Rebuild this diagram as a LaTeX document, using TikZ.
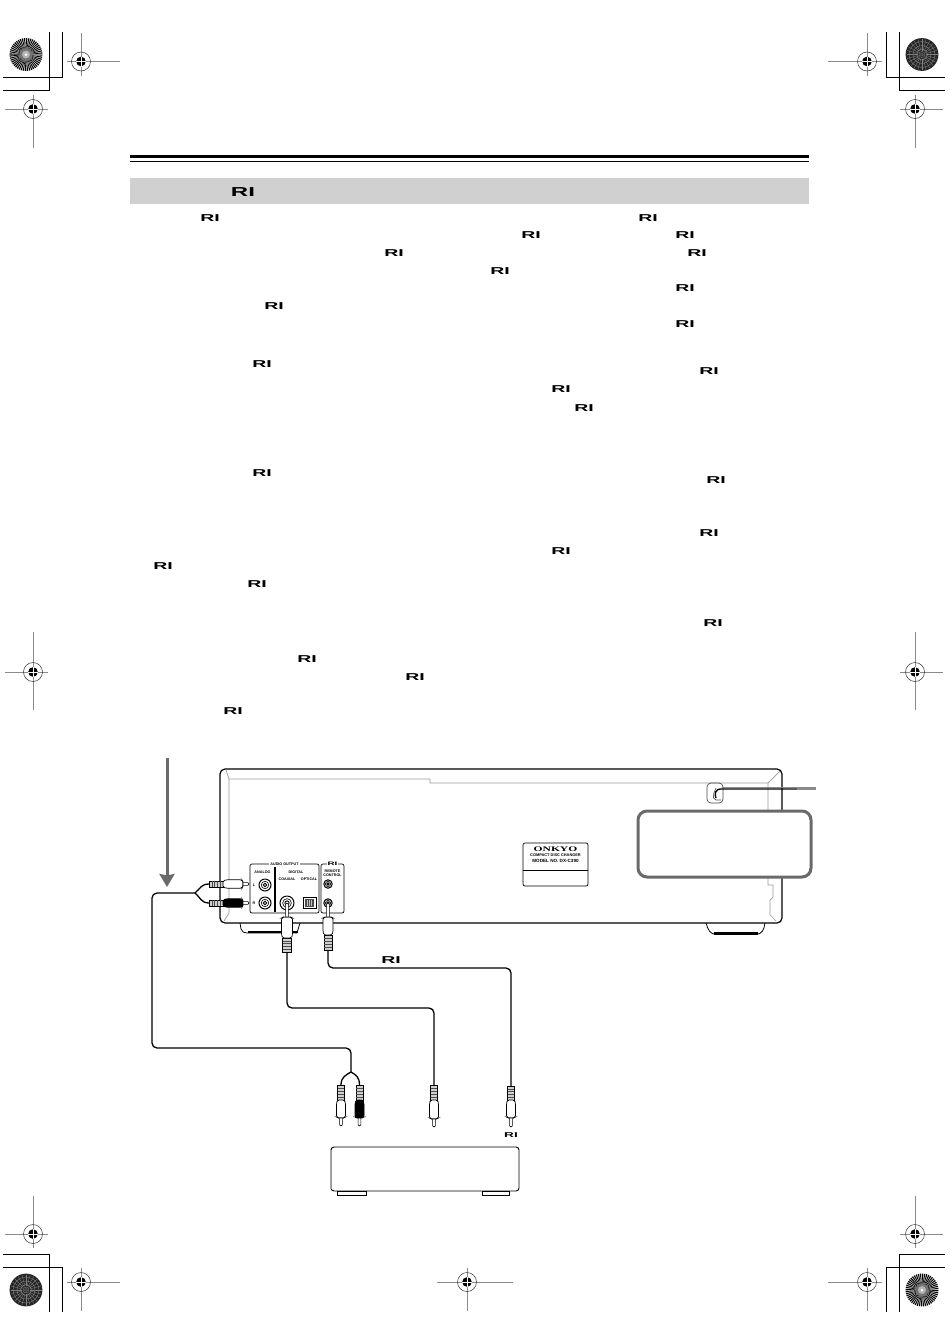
\documentclass[tikz,border=0pt]{standalone}
\usepackage{fontspec}
\usetikzlibrary{arrows.meta}
\setmainfont{Liberation Sans}
\newfontfamily\rifont[FakeStretch=1.95]{Liberation Sans Bold}
\newfontfamily\rihead[FakeStretch=1.85]{Liberation Sans Bold}
\newfontfamily\onkyofont[FakeStretch=1.65]{Liberation Serif Bold}
\definecolor{markgrey}{HTML}{8A8A8A}
\definecolor{bandgrey}{HTML}{D0D0D0}
\definecolor{boxgrey}{HTML}{6A6A6A}
\definecolor{bevel}{HTML}{9A9A9A}
\tikzset{
  x=1pt,y=-1pt,
  outline/.style={draw=black,line width=1pt},
  thinline/.style={draw=bevel,line width=0.7pt},
  crop/.style={draw=black,line width=1pt},
  cable/.style={draw=black,line width=1.3pt,rounded corners=5pt},
  logo/.style={inner sep=0pt,font=\fontsize{10}{10}\selectfont\rifont},
  logosmall/.style={inner sep=0pt,font=\fontsize{7}{7}\selectfont\rifont},
  logohead/.style={inner sep=0pt,font=\fontsize{13}{13}\selectfont\rihead},
  tiny/.style={inner sep=0pt,font=\fontsize{3.7}{4}\selectfont\bfseries,align=center},
  pics/plug/.style args={#1/#2/#3/#4/#5}{code={
    \path[fill=bandgrey,draw=black,line width=0.5pt] (-#5+1.2,0) rectangle (#5-1.2,#2);
    \foreach \k in {0.2,0.4,0.6,0.8}{\draw[line width=0.6pt,black!70] (-#5+1.2,\k*#2) -- (#5-1.2,\k*#2);}
    \path[fill=#1,draw=black,line width=0.7pt,rounded corners=1.5pt]
      (-#5+1,#2) -- (#5-1,#2) -- (#5,#2+3) -- (#5,#2+#3-1) -- (#5-2,#2+#3) -- (-#5+2,#2+#3) -- (-#5,#2+#3-1) -- (-#5,#2+3) -- cycle;
    \path[fill=white,draw=black,line width=0.6pt] (-1.4,#2+#3) -- (-1.4,#2+#3+#4-1.2) -- (0,#2+#3+#4) -- (1.4,#2+#3+#4-1.2) -- (1.4,#2+#3) -- cycle;
  }},
  pics/jack/.style={code={
    \draw[line width=1pt,fill=white] (0,0) circle[radius=#1];
    \draw[line width=0.6pt] (0,0) circle[radius=#1*0.62];
    \draw[line width=0.9pt] (0,0) circle[radius=#1*0.3];
  }},
}
\newcommand{\regmark}[7]{% x y left right top bottom name
  \coordinate (#7) at (#1,#2);
  \draw[markgrey,line width=0.7pt] (#3,#2) -- (#4,#2);
  \draw[markgrey,line width=0.7pt] (#1,#5) -- (#1,#6);
  \draw[black!80,line width=0.5pt] (#7) circle[radius=9.5];
  \fill[black] (#7) circle[radius=4.8];
  \draw[white,line width=0.6pt] (#1-5,#2) -- (#1+5,#2) (#1,#2-5) -- (#1,#2+5);
}
\newcommand{\radialdisc}[3]{% x y name
  \coordinate (#3) at (#1,#2);
  \fill[black!15] (#3) circle[radius=16.4];
  \begin{scope}[shift={(#1,#2)}]
  \foreach \a in {0,7.5,...,352.5}{
    \fill[black] (0,0) -- (\a:16.4) -- (\a+4:16.4) -- cycle;
  }
  \fill[black!55] (0,0) circle[radius=6.5];
  \fill[black!30] (0,0) circle[radius=4];
  \fill[white] (0,0) circle[radius=1.5];
  \end{scope}
}
\newcommand{\darkdisc}[3]{% x y name
  \coordinate (#3) at (#1,#2);
  \begin{scope}[shift={(#1,#2)}]
  \fill[black!85] (0,0) circle[radius=16.4];
  \foreach \a in {0,15,...,345}{
    \draw[black!50,line width=0.35pt] (\a:4) -- (\a:15.5);
  }
  \foreach \r in {3,5.5,9,13}{\draw[black!50,line width=0.4pt] (0,0) circle[radius=\r];}
  \fill[black!70] (0,0) circle[radius=2];
  \end{scope}
}
\begin{document}
\begin{tikzpicture}
\useasboundingbox (0,0) rectangle (950,1344);
\fill[white] (0,0) rectangle (950,1344);

% corner discs
\radialdisc{26}{54.5}{discTL}
\darkdisc{922}{54.5}{discTR}
\darkdisc{26}{1290}{discBL}
\radialdisc{922}{1290}{discBR}

% crop marks
\draw[crop] (3,77) -- (62,77) -- (62,32);
\draw[crop] (3,90) -- (49,90) -- (49,32);
\draw[crop] (945,77) -- (886,77) -- (886,32);
\draw[crop] (945,90) -- (899,90) -- (899,32);
\draw[crop] (3,1254) -- (49,1254) -- (49,1312);
\draw[crop] (3,1267) -- (62,1267) -- (62,1312);
\draw[crop] (945,1254) -- (899,1254) -- (899,1312);
\draw[crop] (945,1267) -- (886,1267) -- (886,1312);

% registration marks
\regmark{81}{61.5}{67}{120}{33}{76}{regA}
\regmark{33}{109}{5}{48}{95}{148}{regB}
\regmark{867}{61.5}{828}{882}{33}{76}{regC}
\regmark{915}{109}{900}{943}{95}{148}{regD}
\regmark{33}{672}{5}{48}{632}{710}{regE}
\regmark{915}{672}{900}{943}{632}{710}{regF}
\regmark{33}{1234}{5}{48}{1196}{1248}{regG}
\regmark{81}{1282}{67}{120}{1268}{1311}{regH}
\regmark{915}{1234}{900}{943}{1196}{1248}{regI}
\regmark{867}{1282}{828}{882}{1268}{1311}{regJ}
\regmark{467}{1282}{437}{513}{1268}{1311}{regK}

% header
\draw[black,line width=2.2pt] (130,156.5) -- (809,156.5);
\draw[black,line width=1pt] (130,161.5) -- (809,161.5);
\fill[bandgrey] (130,178) rectangle (809,204);
\node[logohead] (riHead) at (243,192.5) {RI};

% RI marks in the text area
\foreach \n/\xx/\yy in {a/210/218,b/648/218,c/531/235.5,d/685/235.5,e/394/253,f/697/253,g/500/271,h/685/288,i/274/306,j/685/324,k/262/364,l/709/371,m/561/389,n/584/408,o/262/473,p/716/480,q/709/533,r/561/551,s/163/566,t/257/584,u/713/623,v/307/659,w/415/677,y/233/711}{
  \node[logo] (ri\n) at (\xx,\yy) {RI};
}

% rear panel of the changer: feet first
\path[fill=white,draw=black,line width=0.8pt] (240,923) -- (241,929) .. controls (242,932) and (244,933) .. (247,933) -- (297,933) -- (300,923);
\fill[black] (248,931) rectangle (298,933.4);
\path[fill=white,draw=black,line width=0.8pt] (706,923) .. controls (708,930) and (710,934) .. (716,934.5) -- (756,934.5) .. controls (762,934) and (764,930) .. (765,923);
\fill[black] (714,932.4) rectangle (758,935);
\path[outline,fill=white,line width=1.2pt,rounded corners=5pt] (220,769) rectangle (782,923);
% inner bevels
\draw[thinline] (226,770) -- (229,779) -- (430,779) -- (430,783) -- (768,783) -- (780,771);
\draw[thinline] (229,779) -- (229,913) -- (224,921);
\draw[thinline] (768,783) -- (768,885) -- (773,885) -- (773,897) -- (770,900) -- (770,915) -- (776,921);

% cord hook
\draw[thinline,rounded corners=4pt,draw=black!70] (707,783) rectangle (723,803);
\draw[black!70,line width=0.6pt,rounded corners=2pt] (721,800) -- (714,800) -- (713,795) -- (716,788);
\draw[black,line width=1.4pt,rounded corners=3pt] (716,798) -- (714.5,795) -- (717,789) -- (797,789);
\draw[markgrey,line width=0.7pt] (722,787) -- (816,787);
\draw[markgrey,line width=1.2pt] (797,789) -- (816,789);

% rating label
\draw[black,line width=0.7pt,rounded corners=2pt] (523,843) rectangle (588,886);
\draw[black,line width=0.7pt] (523,870) -- (588,870);
\node[inner sep=0pt,font=\fontsize{7}{7}\selectfont\onkyofont] (onkyo) at (555.5,849.5) {ONKYO};
\node[inner sep=0pt,font=\fontsize{3.9}{4}\selectfont\bfseries] (cdc) at (555.5,854.8) {COMPACT DISC CHANGER};
\node[inner sep=0pt,font=\fontsize{4.6}{5}\selectfont\bfseries] (model) at (555.5,860.5) {MODEL NO. DX-C390};

% grey notice box
\path[draw=boxgrey,fill=white,line width=3pt,rounded corners=9pt] (638,811) rectangle (811,877);

% connection panels
\draw[black,line width=0.7pt,rounded corners=2pt] (250,864) rectangle (319,913);
\draw[black,line width=0.7pt,rounded corners=2pt] (321,864) rectangle (344,913);
\node[tiny,fill=white,inner xsep=1pt] (audioout) at (284.5,864) {AUDIO OUTPUT};
\node[fill=white,inner xsep=1pt,inner ysep=0pt,font=\fontsize{5}{5}\selectfont\rifont] (riPanel) at (332.5,864) {RI};
\draw[black,line width=1.4pt] (275,867) -- (275,912);
\node[tiny] (analog) at (262.5,872) {ANALOG};
\node[tiny] (digital) at (296,872) {DIGITAL};
\node[tiny] (coaxial) at (287,879) {COAXIAL};
\node[tiny] (optical) at (309,879) {OPTICAL};
\node[tiny] (remote) at (332.5,873.5) {REMOTE\\CONTROL};
\node[tiny] (lbl) at (254,885) {L};
\node[tiny] (lbr) at (254,903) {R};
\pic (jackL) at (265,885) {jack=6};
\pic (jackR) at (265,903) {jack=6};
\pic (jackC) at (287,903) {jack=7};
\pic (jackT) at (328,884) {jack=4.2};
\pic (jackB) at (328,903) {jack=4.2};
\draw[black,line width=0.8pt] (303,897) rectangle (316,908);
\draw[black!70,line width=1pt,fill=black!25] (305.5,899) rectangle (313.5,906);
\foreach \k in {306.5,308.5,310.5,312.5}{\draw[black!70,line width=0.4pt] (\k,899) -- (\k,906);}

% plugs and their cable ends
\coordinate (split) at (195,893);
\coordinate (endL) at (209,884);
\coordinate (endR) at (209,903);
\pic[rotate=90] (plugL) at (endL) {plug=white/14/20/6/4.2};
\pic[rotate=90] (plugR) at (endR) {plug=black/14/20/6/4.2};
\coordinate (coaxTop) at (287,952);
\coordinate (riTop) at (328,950);
\pic[rotate=180] (plugC) at (coaxTop) {plug=white/14/21/14/5.5};
\pic[rotate=180] (plugT) at (riTop) {plug=white/15/18/14/5};
\draw[black,line width=1.3pt] (split) .. controls (200,889) and (201,884) .. (endL);
\draw[black,line width=1.3pt] (split) .. controls (200,897) and (201,903) .. (endR);

% receiver plugs
\coordinate (splitB) at (351,1072);
\coordinate (pa) at (341,1085);
\coordinate (pb) at (359.5,1085);
\coordinate (pc) at (434,1085);
\coordinate (pd) at (511,1086);
\pic (plugA) at (pa) {plug=white/15/18/8/4.5};
\pic (plugB) at (pb) {plug=black/15/18/8/4.5};
\pic (plugD) at (pc) {plug=white/15/19/8/4.5};
\pic (plugE) at (pd) {plug=white/14/18/9/4.5};
\draw[black,line width=1.3pt] (splitB) .. controls (346,1075) and (341,1077) .. (pa);
\draw[black,line width=1.3pt] (splitB) .. controls (356,1075) and (359.5,1077) .. (pb);

% cables
\draw[cable] (split) -- (152,893) -- (152,1048) -- (351,1048) -- (splitB);
\draw[cable] (coaxTop) -- (287,1008) -- (434,1008) -- (pc);
\draw[cable] (riTop) -- (328,968) -- (511,968) -- (pd);
\node[logo] (riCable) at (391,960) {RI};
\node[logosmall] (riPlug) at (511,1135) {RI};

% the receiver
\path[fill=white,draw=black,line width=0.9pt,rounded corners=3pt] (331,1147) rectangle (519,1191);
\draw[bevel,line width=1pt] (331.5,1150) -- (331.5,1189);
\path[fill=white,draw=black,line width=0.8pt] (337,1191) rectangle (366,1195);
\path[fill=white,draw=black,line width=0.8pt] (482,1191) rectangle (509,1195);

% viewing arrow
\coordinate (viewStart) at (167,758);
\coordinate (viewEnd) at (167,887);
\draw[boxgrey,line width=3pt,-{Stealth[length=13pt,width=15pt,inset=1.5pt]}] (viewStart) -- (viewEnd);
\end{tikzpicture}
\end{document}
